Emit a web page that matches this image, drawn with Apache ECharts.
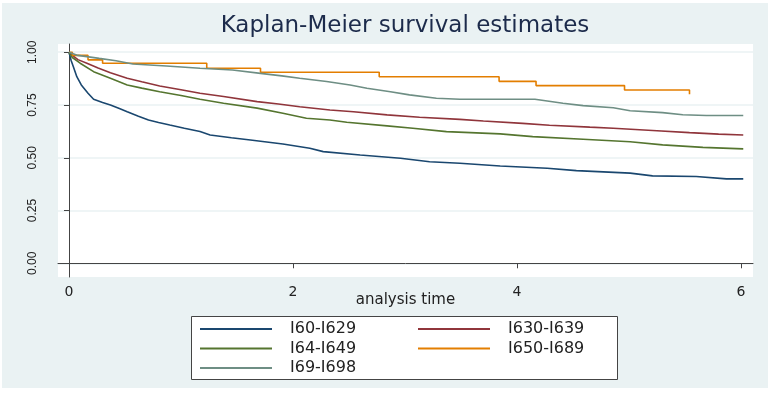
<!DOCTYPE html>
<html>
<head>
<meta charset="utf-8">
<script src="https://cdn.jsdelivr.net/npm/echarts@6/dist/echarts.min.js"></script>
<style>
  html, body { margin: 0; padding: 0; background: #fff; }
  #chart { width: 773px; height: 397px; }
</style>
</head>
<body>
<div id="chart"></div>
<script>
// survival curves (time in years, survival proportion)
const names = ['I60-I629', 'I630-I639', 'I64-I649', 'I650-I689', 'I69-I698']
const colors = ['#1a476f', '#90353b', '#55752f', '#e37e00', '#6e8e84']

const t60 = [0, 0.02, 0.04, 0.07, 0.11, 0.17, 0.22, 0.30, 0.37, 0.45, 0.52, 0.62, 0.71, 0.80, 0.90, 1.03, 1.17, 1.26, 1.45, 1.62, 1.91, 2.15, 2.27, 2.60, 2.96, 3.22, 3.49, 3.85, 4.27, 4.53, 5.01, 5.21, 5.60, 5.87, 6.02]
const s60 = [1, 0.96, 0.93, 0.884, 0.845, 0.806, 0.777, 0.762, 0.75, 0.733, 0.718, 0.697, 0.679, 0.667, 0.655, 0.64, 0.624, 0.608, 0.595, 0.584, 0.565, 0.545, 0.529, 0.513, 0.498, 0.481, 0.474, 0.461, 0.45, 0.439, 0.427, 0.414, 0.411, 0.4, 0.4]

const t630 = [0, 0.03, 0.08, 0.16, 0.26, 0.37, 0.52, 0.65, 0.81, 1.0, 1.17, 1.38, 1.68, 1.87, 2.06, 2.33, 2.54, 2.84, 3.13, 3.49, 3.70, 4.05, 4.29, 4.65, 4.86, 5.25, 5.54, 5.80, 6.02]
const s630 = [1, 0.985, 0.965, 0.948, 0.925, 0.903, 0.877, 0.86, 0.84, 0.822, 0.806, 0.79, 0.766, 0.755, 0.742, 0.726, 0.718, 0.703, 0.692, 0.682, 0.674, 0.663, 0.654, 0.645, 0.64, 0.628, 0.619, 0.612, 0.608]

const t64 = [0, 0.03, 0.10, 0.22, 0.37, 0.52, 0.65, 0.81, 1.0, 1.17, 1.38, 1.68, 1.91, 2.12, 2.33, 2.48, 2.84, 3.07, 3.37, 3.85, 4.14, 4.59, 5.01, 5.30, 5.66, 6.02]
const s64 = [1, 0.975, 0.948, 0.908, 0.877, 0.845, 0.83, 0.813, 0.795, 0.777, 0.758, 0.735, 0.711, 0.687, 0.679, 0.668, 0.651, 0.64, 0.624, 0.613, 0.6, 0.588, 0.576, 0.561, 0.549, 0.542]

const t650 = [0, 0.03, 0.17, 0.30, 1.23, 1.71, 2.77, 3.84, 4.17, 4.96, 5.54]
const s650 = [1, 0.985, 0.964, 0.948, 0.924, 0.905, 0.884, 0.862, 0.842, 0.821, 0.801]

const t69 = [0, 0.08, 0.27, 0.42, 0.57, 0.87, 1.17, 1.46, 1.71, 1.90, 2.06, 2.30, 2.51, 2.66, 2.87, 3.04, 3.28, 3.49, 4.16, 4.27, 4.41, 4.59, 4.86, 5.01, 5.30, 5.48, 5.69, 6.02]
const s69 = [1, 0.985, 0.971, 0.96, 0.944, 0.935, 0.924, 0.916, 0.9, 0.888, 0.877, 0.861, 0.845, 0.829, 0.813, 0.798, 0.782, 0.777, 0.777, 0.769, 0.758, 0.747, 0.737, 0.723, 0.714, 0.704, 0.7, 0.7]

// the orange group has few events, so its steps are drawn; the rest are dense enough to look smooth
const stepped = [false, false, false, true, false]

const xTicks = [0, 2, 4, 6]
const yTicks = [0, 0.25, 0.5, 0.75, 1]

const curves = [[t60, s60], [t630, s630], [t64, s64], [t650, s650], [t69, s69]]

const chart = echarts.init(document.getElementById('chart'))

const legendText = { fontFamily: 'DejaVu Sans', fontSize: 16, lineHeight: 16, color: '#222', padding: [0, 0, 0, 13] }

const option = {
  backgroundColor: '#fff',
  animation: false,
  title: {
    text: 'Kaplan-Meier survival estimates',
    left: 405,
    top: 15,
    padding: 0,
    textAlign: 'center',
    textStyle: { fontFamily: 'DejaVu Sans', fontSize: 23, fontWeight: 'normal', color: '#1c2b4b' },
  },
  graphic: [
    {
      type: 'rect',
      z: -100,
      silent: true,
      shape: { x: 2, y: 3, width: 766, height: 385 },
      style: { fill: '#eaf2f3' },
    },
    {
      type: 'rect',
      z: 1,
      silent: true,
      shape: { x: 191.5, y: 316.5, width: 426, height: 63 },
      style: { fill: '#fff', stroke: '#444', lineWidth: 1 },
    },
  ],
  grid: {
    left: 58,
    right: 20,
    top: 44,
    bottom: 120,
    show: true,
    backgroundColor: '#fff',
    borderWidth: 0,
  },
  legend: [
    {
      orient: 'vertical',
      left: 200,
      top: 321,
      padding: 0,
      icon: 'rect',
      itemWidth: 72,
      itemHeight: 2,
      itemGap: 3.5,
      data: ['I60-I629', 'I64-I649', 'I69-I698'],
      textStyle: legendText,
    },
    {
      orient: 'vertical',
      left: 418,
      top: 321,
      padding: 0,
      icon: 'rect',
      itemWidth: 72,
      itemHeight: 2,
      itemGap: 3.5,
      data: ['I630-I639', 'I650-I689'],
      textStyle: legendText,
    },
  ],
  xAxis: {
    type: 'value',
    min: -0.098,
    max: 6.107,
    name: 'analysis time',
    nameLocation: 'middle',
    nameGap: 16,
    nameMoveOverlap: false,
    nameTextStyle: { fontFamily: 'DejaVu Sans', fontSize: 15, color: '#222' },
    axisLine: { lineStyle: { color: '#444', width: 1 } },
    axisTick: { show: true, length: 5, customValues: xTicks, lineStyle: { color: '#444' } },
    axisLabel: { customValues: xTicks, margin: 8, fontFamily: 'DejaVu Sans', fontSize: 14, color: '#222' },
    splitLine: { show: false },
  },
  yAxis: {
    type: 'value',
    min: -0.065,
    max: 1.039,
    axisLine: { show: true, lineStyle: { color: '#444', width: 1 } },
    axisTick: { show: true, length: 5, customValues: yTicks, lineStyle: { color: '#444' } },
    axisLabel: {
      customValues: yTicks,
      rotate: 90,
      margin: 19,
      fontFamily: 'Liberation Sans',
      fontSize: 12,
      color: '#222',
      formatter: (v) => v.toFixed(2),
    },
    splitLine: { show: true, lineStyle: { color: '#eaf2f3', width: 1.5 } },
  },
  series: names.map((name, i) => ({
    name: name,
    type: 'line',
    step: stepped[i] ? 'end' : false,
    symbol: 'none',
    color: colors[i],
    lineStyle: { width: 1.6, color: colors[i] },
    data: curves[i][0].map((t, j) => [t, curves[i][1][j]]),
  })),
}

chart.setOption(option)
</script>
</body>
</html>
